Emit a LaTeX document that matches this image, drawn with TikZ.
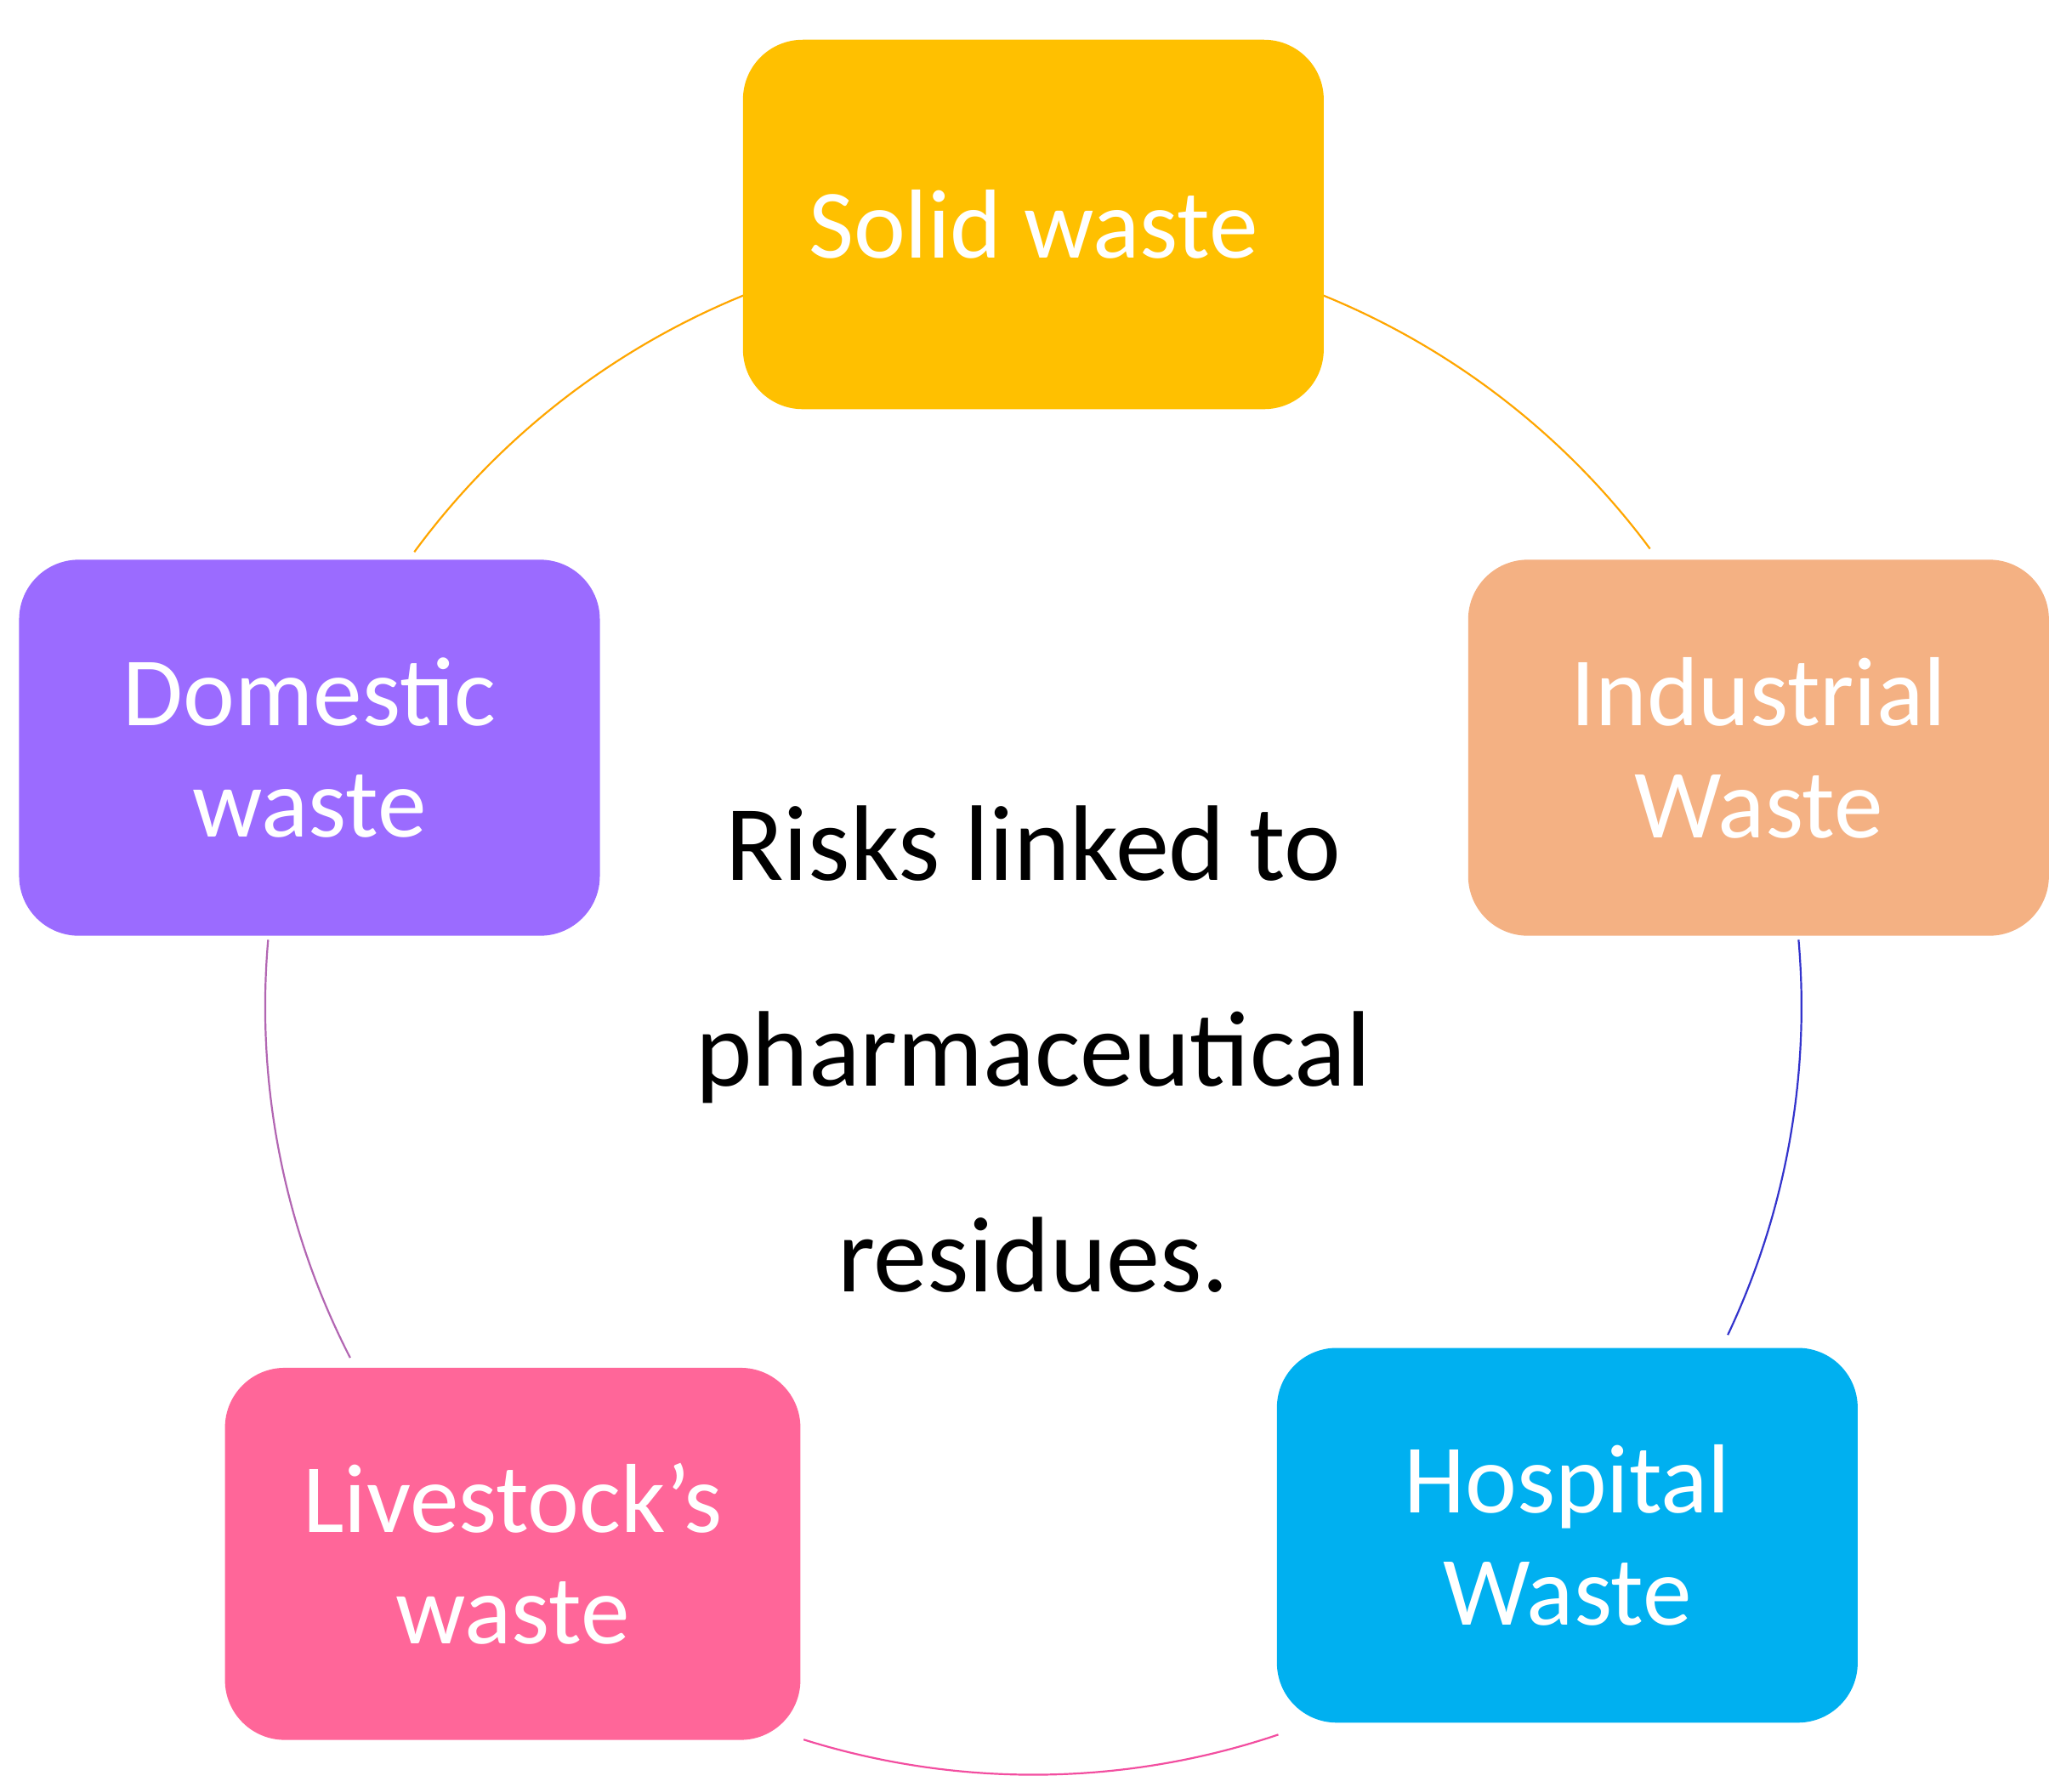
\documentclass[tikz,border=0pt]{standalone}
\usepackage{fontspec}
\setmainfont{Carlito}
\begin{document}
\begin{tikzpicture}[x=0.01cm,y=-0.01cm,
  box/.style={draw=none,rounded corners=0.45cm,minimum width=4.37cm,minimum height=2.8cm,align=center,text=white,font=\fontsize{21pt}{24pt}\selectfont}]
\useasboundingbox (0,0) rectangle (1560,1345);
\coordinate (c) at (778,758);
\draw[color=orange!70!yellow,line width=0.4pt] ([shift={(67.8:5.78cm)}]c) arc[start angle=67.8,end angle=36.6,radius=5.78cm];
\draw[color=blue!60!gray,line width=0.4pt] ([shift={(5:5.78cm)}]c) arc[start angle=5,end angle=-25.3,radius=5.78cm];
\draw[color=magenta!60!pink,line width=0.4pt] ([shift={(-71.4:5.78cm)}]c) arc[start angle=-71.4,end angle=-107.4,radius=5.78cm];
\draw[color=violet!60,line width=0.4pt] ([shift={(207.2:5.78cm)}]c) arc[start angle=207.2,end angle=175,radius=5.78cm];
\draw[color=orange!70!yellow,line width=0.4pt] ([shift={(143.7:5.78cm)}]c) arc[start angle=143.7,end angle=111.9,radius=5.78cm];
\definecolor{cs}{HTML}{FFC000}
\definecolor{cd}{HTML}{9B6BFF}
\definecolor{ci}{HTML}{F4B183}
\definecolor{ch}{HTML}{00B0F0}
\definecolor{cl}{HTML}{FF6699}
\node[box,fill=cs,minimum height=2.78cm] (solid) at (778,169) {Solid waste};
\node[box,fill=cd,minimum height=2.83cm] (dom) at (233,563) {Domestic\\waste};
\node[box,fill=ci,minimum height=2.83cm] (ind) at (1324,563) {Industrial\\Waste};
\node[box,fill=ch,minimum height=2.82cm] (hos) at (1180,1156) {Hospital\\Waste};
\node[box,fill=cl,minimum width=4.33cm] (liv) at (386,1170) {Livestock’s\\waste};
\node[align=center,font=\fontsize{23pt}{44pt}\selectfont] (center) at (778,790) {Risks linked to\\pharmaceutical\\residues.};
\end{tikzpicture}
\end{document}
